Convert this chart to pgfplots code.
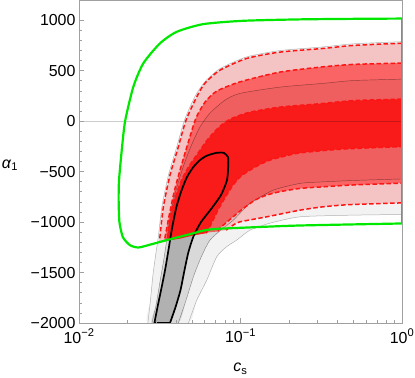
\documentclass[border=0pt]{standalone}
\usepackage{pgfplots}
\pgfplotsset{compat=1.18}
\usepackage{fontspec}
\setmainfont{Liberation Sans}
\definecolor{framegray}{HTML}{A0A0A0}
\definecolor{gthree}{HTML}{F2F2F2}
\definecolor{gtwo}{HTML}{E3E3E3}
\definecolor{gone}{HTML}{BABABA}
\definecolor{pinkband}{HTML}{F4C3C3}
\definecolor{salmon}{HTML}{FA6464}
\definecolor{brightred}{HTML}{F91A1A}
\definecolor{dashred}{HTML}{FF1414}
\definecolor{mgreen}{HTML}{00E800}
\begin{document}
\begin{tikzpicture}
\useasboundingbox (-79bp,-55bp) rectangle (336bp,323bp);
\begin{axis}[
  at={(0,0)}, anchor=south west,
  scale only axis, width=323bp, height=323bp,
  xmode=log, xmin=0.01, xmax=1, ymin=-2000, ymax=1200,
  xtick={0.01,0.1,1},
  xticklabels={10\textsuperscript{−2},10\textsuperscript{−1},10\textsuperscript{0}},
  ytick={-2000,-1500,-1000,-500,0,500,1000},
  yticklabels={−2000,−1500,−1000,−500,0,500,1000},
  minor y tick num=4,
  xtick pos=bottom, ytick pos=left,
  tick align=inside,
  major tick length=5bp, minor tick length=3bp,
  axis line style={draw=framegray, line width=0.8bp},
  every tick/.style={framegray, line width=0.6bp},
  tick label style={font=\fontsize{16}{19}\selectfont, black},
  xticklabel style={yshift=-2.5bp},
  xlabel={\textit{c}\textsubscript{s}},
  ylabel={\textit{α}\textsubscript{1}},
  every axis x label/.style={at={(axis description cs:0.5,0)}, anchor=center, yshift=-46bp, font=\fontsize{16}{19}\selectfont},
  every axis y label/.style={at={(axis description cs:0,0.489)}, anchor=center, xshift=-69bp, font=\fontsize{16}{19}\selectfont},
  axis on top,
]
% ---- gray regions (second constraint) ----
\addplot[draw=none, fill=gthree, smooth, tension=0.4] coordinates {
 (1,787) (0.5,766) (0.3243,735) (0.1756,699) (0.1092,636) (0.0747,520) (0.0603,391) (0.0524,248) (0.0450,10) (0.0401,-268) (0.0358,-535) (0.0326,-849) (0.0310,-1147) (0.0300,-1298) (0.0287,-1526) (0.0277,-1774) (0.0267,-2000)
 (0.0476,-2000) (0.0536,-1774) (0.0618,-1576) (0.0712,-1345) (0.0813,-1249) (0.0947,-1179) (0.1145,-1080) (0.1523,-1011) (0.2336,-948) (0.4764,-932) (1,-925)};
\addplot[draw=none, fill=gtwo, smooth, tension=0.4] coordinates {
 (1,416) (0.5,402) (0.3243,374) (0.1756,337) (0.0993,275) (0.0802,208) (0.0647,79) (0.0561,-59) (0.0494,-248) (0.0441,-456) (0.0399,-684) (0.0371,-902) (0.0353,-1130) (0.0336,-1358) (0.0317,-1595) (0.0300,-1823) (0.0283,-2000)
 (0.0412,-2000) (0.0460,-1774) (0.0515,-1526) (0.0578,-1328) (0.0647,-1179) (0.0768,-1070) (0.0903,-981) (0.1145,-816) (0.1596,-684) (0.2336,-617) (0.3243,-602) (0.5,-588) (1,-573)};
\addplot[draw=none, fill=gone, smooth, tension=0.4] coordinates {
 (0.0293,-2000) (0.0308,-1823) (0.0324,-1655) (0.0341,-1477) (0.0358,-1278) (0.0377,-1060) (0.0401,-852) (0.0432,-684) (0.0466,-555) (0.0510,-456) (0.0561,-386) (0.0620,-342) (0.0712,-314) (0.0790,-315) (0.0837,-357) (0.0840,-436) (0.0825,-585) (0.0757,-733) (0.0657,-872) (0.0569,-1001) (0.0512,-1140) (0.0476,-1298) (0.0450,-1477) (0.0425,-1675) (0.0396,-1843) (0.0366,-2000)};
% ---- red regions ----
\addplot[draw=none, fill=pinkband, smooth, tension=0.4] coordinates {
 (1,772) (0.5,750) (0.3243,720) (0.1756,684) (0.1092,621) (0.0747,505) (0.0603,377) (0.0536,241) (0.0460,10) (0.0410,-268) (0.0366,-535) (0.0333,-849) (0.0317,-1147) (0.0315,-1199)
 (0.0341,-1189) (0.0366,-1179) (0.0422,-1164) (0.0487,-1140) (0.0561,-1120) (0.0647,-1100) (0.0747,-1090)
 (0.0813,-1080) (0.0899,-1031) (0.0993,-998) (0.1453,-948) (0.2336,-882) (0.3243,-849) (0.4764,-827) (1,-810)};
\addplot[draw=none, fill=salmon, smooth, tension=0.4] coordinates {
 (1,575) (0.5,562) (0.3243,538) (0.1756,486) (0.0993,389) (0.0712,297) (0.0603,188) (0.0530,30) (0.0473,-218) (0.0422,-486) (0.0388,-704) (0.0362,-932) (0.0341,-1150) (0.0339,-1189)
 (0.0366,-1179) (0.0422,-1164) (0.0487,-1140) (0.0561,-1120) (0.0647,-1100) (0.0726,-1092)
 (0.0747,-1060) (0.0822,-1001) (0.0925,-932) (0.1041,-865) (0.1229,-783) (0.1453,-733) (0.1756,-699) (0.2336,-667) (0.3243,-651) (0.4764,-634) (1,-614)};
% tint where the second constraint's middle band overlaps
\addplot[draw=none, fill=black, fill opacity=0.045, smooth, tension=0.4] coordinates {
 (1,416) (0.5,402) (0.3243,374) (0.1756,337) (0.0993,275) (0.0802,208) (0.0647,79) (0.0561,-59) (0.0494,-248) (0.0441,-456) (0.0399,-684) (0.0371,-902) (0.0353,-1130) (0.0336,-1358) (0.0317,-1595) (0.0300,-1823) (0.0283,-2000)
 (0.0412,-2000) (0.0460,-1774) (0.0515,-1526) (0.0578,-1328) (0.0647,-1179) (0.0768,-1070) (0.0903,-981) (0.1145,-816) (0.1596,-684) (0.2336,-617) (0.3243,-602) (0.5,-588) (1,-573)};
\addplot[draw=none, fill=brightred, smooth, tension=0.4] coordinates {
 (1,218) (0.5,203) (0.3243,175) (0.1756,139) (0.1145,89) (0.0925,40) (0.0822,0) (0.0726,-69) (0.0629,-178) (0.0546,-317) (0.0480,-446) (0.0434,-575) (0.0407,-694) (0.0385,-813) (0.0369,-951) (0.0358,-1080) (0.0354,-1182)
 (0.0366,-1179) (0.0422,-1164) (0.0487,-1140) (0.0561,-1120) (0.0612,-1110)
 (0.0629,-1080) (0.0676,-981) (0.0736,-862) (0.0813,-743) (0.0899,-634) (0.1007,-545) (0.1229,-456) (0.1523,-386) (0.2228,-320) (0.3243,-292) (0.4764,-273) (1,-253)};
% zero line
\addplot[black, opacity=0.2, line width=0.5bp] coordinates {(0.01,0) (1,0)};
% thin gray boundaries of the second constraint
\addplot[black!30, line width=0.5bp, smooth, tension=0.4] coordinates {
 (1,787) (0.5,766) (0.3243,735) (0.1756,699) (0.1092,636) (0.0747,520) (0.0603,391) (0.0524,248) (0.0450,10) (0.0401,-268) (0.0358,-535) (0.0326,-849) (0.0310,-1147) (0.0300,-1298) (0.0287,-1526) (0.0277,-1774) (0.0267,-2000)};
\addplot[black!30, line width=0.5bp, smooth, tension=0.4] coordinates {
 (0.0476,-2000) (0.0536,-1774) (0.0618,-1576) (0.0712,-1345) (0.0813,-1249) (0.0947,-1179) (0.1145,-1080) (0.1523,-1011) (0.2336,-948) (0.4764,-932) (1,-925)};
\addplot[black, opacity=0.4, line width=0.45bp, smooth, tension=0.4] coordinates {
 (1,416) (0.5,402) (0.3243,374) (0.1756,337) (0.0993,275) (0.0802,208) (0.0647,79) (0.0561,-59) (0.0494,-248) (0.0441,-456) (0.0399,-684) (0.0371,-902) (0.0353,-1130) (0.0336,-1358) (0.0317,-1595) (0.0300,-1823) (0.0283,-2000)};
\addplot[black, opacity=0.4, line width=0.45bp, smooth, tension=0.4] coordinates {
 (0.0412,-2000) (0.0460,-1774) (0.0515,-1526) (0.0578,-1328) (0.0647,-1179) (0.0768,-1070) (0.0903,-981) (0.1145,-816) (0.1596,-684) (0.2336,-617) (0.3243,-602) (0.5,-588) (1,-573)};
% ---- red dashed contours ----
\pgfplotsset{rdash/.style={dashred, line width=1.5bp, dash pattern=on 4.5bp off 2.5bp, smooth, tension=0.4}}
\addplot[rdash] coordinates {
 (1,772) (0.5,750) (0.3243,720) (0.1756,684) (0.1092,621) (0.0747,505) (0.0603,377) (0.0536,241) (0.0460,10) (0.0410,-268) (0.0366,-535) (0.0333,-849) (0.0317,-1147) (0.0315,-1190)};
\addplot[rdash] coordinates {
 (1,575) (0.5,562) (0.3243,538) (0.1756,486) (0.0993,389) (0.0712,297) (0.0603,188) (0.0530,30) (0.0473,-218) (0.0422,-486) (0.0388,-704) (0.0362,-932) (0.0341,-1150) (0.0339,-1185)};
\addplot[rdash] coordinates {
 (1,218) (0.5,203) (0.3243,175) (0.1756,139) (0.1145,89) (0.0925,40) (0.0822,0) (0.0726,-69) (0.0629,-178) (0.0546,-317) (0.0480,-446) (0.0434,-575) (0.0407,-694) (0.0385,-813) (0.0369,-951) (0.0358,-1080) (0.0354,-1175)};
\addplot[rdash] coordinates {
 (0.0612,-1110) (0.0629,-1080) (0.0676,-981) (0.0736,-862) (0.0813,-743) (0.0899,-634) (0.1007,-545) (0.1229,-456) (0.1523,-386) (0.2228,-320) (0.3243,-292) (0.4764,-273) (1,-253)};
\addplot[rdash] coordinates {
 (0.0726,-1092) (0.0747,-1060) (0.0822,-1001) (0.0925,-932) (0.1041,-865) (0.1229,-783) (0.1453,-733) (0.1756,-699) (0.2336,-667) (0.3243,-651) (0.4764,-634) (1,-614)};
\addplot[rdash] coordinates {
 (0.0813,-1080) (0.0899,-1031) (0.0993,-998) (0.1453,-948) (0.2336,-882) (0.3243,-849) (0.4764,-827) (1,-810)};
% ---- black contour ----
\addplot[black, line width=1.7bp, smooth, tension=0.4] coordinates {
 (0.0293,-2000) (0.0308,-1823) (0.0324,-1655) (0.0341,-1477) (0.0358,-1278) (0.0377,-1060) (0.0401,-852) (0.0432,-684) (0.0466,-555) (0.0510,-456) (0.0561,-386) (0.0620,-342) (0.0712,-314) (0.0790,-315) (0.0837,-357) (0.0840,-436) (0.0825,-585) (0.0757,-733) (0.0657,-872) (0.0569,-1001) (0.0512,-1140) (0.0476,-1298) (0.0450,-1477) (0.0425,-1675) (0.0396,-1843) (0.0366,-2000)};
\addplot[black, line width=1.7bp] coordinates {(0.0293,-2000) (0.0366,-2000)};
% ---- green contour ----
\addplot[mgreen, line width=2.2bp, smooth, tension=0.4] coordinates {
 (1,1016) (0.4764,1013) (0.2336,1008) (0.1041,994) (0.0588,961) (0.0403,885) (0.0317,770) (0.0250,572) (0.0217,340) (0.0193,0) (0.0184,-287) (0.0177,-585) (0.0176,-783) (0.0178,-1001) (0.0187,-1150) (0.0207,-1229) (0.0233,-1252) (0.0275,-1224) (0.0349,-1179) (0.0487,-1120) (0.0647,-1073) (0.1145,-1053) (0.2336,-1034) (1,-1014)};
\addplot[mgreen, line width=2.2bp] coordinates {(1,-1014) (1,1016)};
\end{axis}
\end{tikzpicture}
\end{document}
